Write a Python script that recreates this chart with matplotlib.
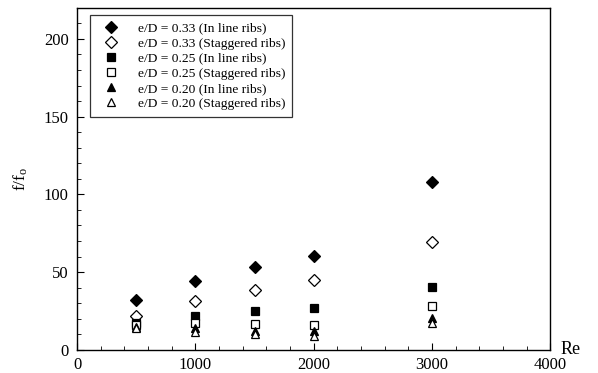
import matplotlib
matplotlib.use("Agg")
import matplotlib.pyplot as plt
from matplotlib.ticker import MultipleLocator

plt.rcParams['font.family'] = ['Liberation Serif', 'DejaVu Serif']
plt.rcParams['mathtext.fontset'] = 'custom'
plt.rcParams['mathtext.rm'] = 'Liberation Serif'
plt.rcParams['mathtext.it'] = 'Liberation Serif'

re = [500, 1000, 1500, 2000, 3000]
d33_inline = [32, 44, 53, 60.5, 108]
d33_stag = [22, 31.5, 38.6, 45, 69.7]
d25_inline = [17.5, 22, 24.7, 27, 40.3]
d25_stag = [16, 17.6, 16.7, 16, 27.9]
d20_inline = [15, 14, 12.4, 12.2, 20.4]
d20_stag = [14, 11.8, 10, 9.2, 17.3]

labels = ["e/D = 0.33 (In line ribs)", "e/D = 0.33 (Staggered ribs)",
          "e/D = 0.25 (In line ribs)", "e/D = 0.25 (Staggered ribs)",
          "e/D = 0.20 (In line ribs)", "e/D = 0.20 (Staggered ribs)"]

fig = plt.figure(figsize=(5.98, 3.73), dpi=100)
ax = fig.add_axes([0.129, 0.062, 0.791, 0.917])

series = [(d33_inline, 'D', 'k'), (d33_stag, 'D', 'w'),
          (d25_inline, 's', 'k'), (d25_stag, 's', 'w'),
          (d20_inline, '^', 'k'), (d20_stag, '^', 'w')]
sizes = {'D': 6.0, 's': 5.8, '^': 6.2}
for (ys, m, fc), lab in zip(series, labels):
    ax.plot(re, ys, linestyle='none', marker=m, markersize=sizes[m],
            markerfacecolor=fc, markeredgecolor='k', markeredgewidth=0.9,
            label=lab)

ax.set_xlim(0, 4000)
ax.set_ylim(0, 220)
ax.xaxis.set_major_locator(MultipleLocator(1000))
ax.xaxis.set_minor_locator(MultipleLocator(200))
ax.yaxis.set_major_locator(MultipleLocator(50))
ax.yaxis.set_minor_locator(MultipleLocator(10))
ax.tick_params(which='both', direction='in', labelsize=12, top=False, right=False)
ax.tick_params(which='major', length=5)
ax.tick_params(which='minor', length=3)
ax.tick_params(axis='x', pad=5)
ax.tick_params(axis='y', pad=6)
for s in ax.spines.values():
    s.set_linewidth(1.0)

ax.set_ylabel(r'f/f$_\mathrm{o}$', fontsize=12.5, labelpad=10)
fig.text(0.937, 0.062, 'Re', fontsize=13, va='center', ha='left')

leg = ax.legend(loc='upper left', bbox_to_anchor=(0.018, 0.99), fontsize=9.7,
                frameon=True, fancybox=False, edgecolor='k', borderpad=0.5,
                labelspacing=0.2, handletextpad=0.9, borderaxespad=0.3,
                handlelength=2.2)
leg.get_frame().set_linewidth(0.9)

fig.savefig("out.png", dpi=100)
